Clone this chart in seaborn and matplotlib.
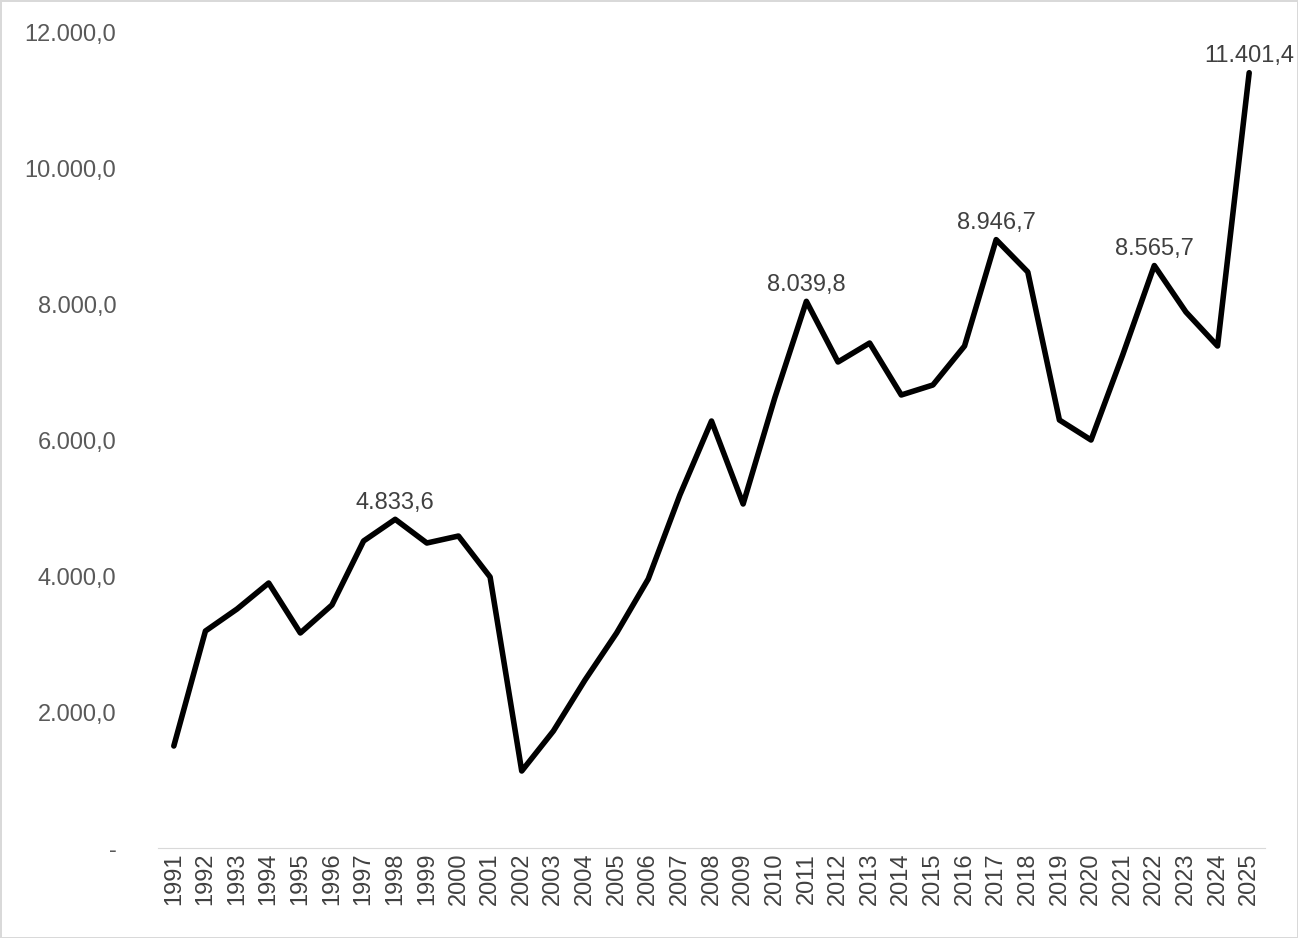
import matplotlib.pyplot as plt
import seaborn as sns
from matplotlib.ticker import FuncFormatter

years = list(range(1991, 2026))
values = [1500, 3191, 3515, 3897, 3162, 3574, 4515, 4833.6, 4485, 4588,
          3985, 1132, 1720, 2470, 3162, 3956, 5191, 6279, 5059, 6618,
          8039.8, 7147, 7426, 6662, 6809, 7382, 8946.7, 8471, 6294, 6000,
          7250, 8565.7, 7882, 7382, 11401.4]
labeled_years = [1998, 2011, 2017, 2022, 2025]


def fmt(v, pos=None):
    if v == 0:
        return '-'
    s = f"{v:,.1f}"
    return s.replace(',', 'X').replace('.', ',').replace('X', '.')


sns.set_style('white')
plt.rcParams['font.family'] = ['Liberation Sans', 'DejaVu Sans']

fig = plt.figure(figsize=(12.98, 9.38), dpi=100)
fig.patch.set_edgecolor('#d9d9d9')
fig.patch.set_linewidth(2)
ax = fig.add_axes([158 / 1298, 90 / 938, 1107 / 1298, 816 / 938])

sns.lineplot(x=[str(y) for y in years], y=values, ax=ax, color='black',
             linewidth=4, sort=False)

for yr, v in zip(years, values):
    if yr in labeled_years:
        i = years.index(yr)
        ax.annotate(fmt(v), (i, v), xytext=(0, 4), textcoords='offset points',
                    ha='center', va='bottom', fontsize=17, color='#404040')

ax.set_ylim(0, 12000)
ax.set_xlim(-0.5, len(years) - 0.5)
ax.set_yticks(range(0, 12001, 2000))
ax.yaxis.set_major_formatter(FuncFormatter(fmt))
ax.tick_params(axis='y', labelsize=17, labelcolor='#595959', length=0, pad=30)
ax.tick_params(axis='x', labelsize=17, labelcolor='#404040', rotation=90, length=0)
for s in ['top', 'right', 'left']:
    ax.spines[s].set_visible(False)
ax.spines['bottom'].set_color('#d9d9d9')
ax.set_xlabel('')
ax.set_ylabel('')

fig.savefig('out.png', dpi=100)
